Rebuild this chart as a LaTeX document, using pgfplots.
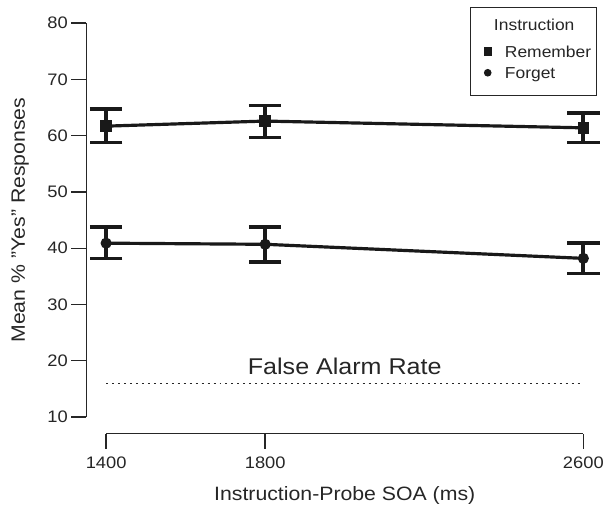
\documentclass[border=0pt]{standalone}
\usepackage{fontspec}
\setmainfont{Liberation Sans}[FakeStretch=1.1]
\usepackage{pgfplots}
\pgfplotsset{compat=1.18}
\usepackage{pgfplotstable}

\pgfplotstableread{
x y ep em
1400 61.7 3.0 2.9
1800 62.6 2.8 2.9
2600 61.4 2.6 2.6
}\remember
\pgfplotstableread{
x y ep em
1400 40.9 2.9 2.7
1800 40.7 3.1 3.1
2600 38.2 2.7 2.7
}\forget

\begin{document}
\begin{tikzpicture}
\begin{axis}[
  scale only axis, width=479.8bp, height=396bp,
  xmin=1400, xmax=2600, ymin=10, ymax=80,
  clip=false,
  axis lines=left,
  axis line style={-, line width=1.4bp, draw=black!85},
  axis x line shift=16.7bp,
  axis y line shift=20bp,
  xtick={1400,1800,2600}, ytick={10,20,...,80},
  tick align=outside, major tick length=15bp,
  tick style={line width=1.4bp, draw=black!85},
  /pgf/number format/assume math mode=true,
  /pgf/number format/1000 sep={},
  scaled ticks=false,
  tick label style={font=\fontsize{16.8}{18}\selectfont, text=black!85},
  xticklabel style={yshift=-5bp},
  xlabel={Instruction-Probe SOA (ms)},
  ylabel={Mean \% "Yes" Responses},
  every axis x label/.style={at={(rel axis cs:0.5,0)}, yshift=-84bp, anchor=base, font=\fontsize{19.5}{22}\selectfont, text=black!85},
  every axis y label/.style={at={(rel axis cs:0,0.5)}, xshift=-81.7bp, anchor=base, rotate=90, font=\fontsize{19.5}{22}\selectfont, text=black!85},
  legend style={at={(rel axis cs:1,1)}, anchor=north east, xshift=13.5bp, yshift=16bp,
    draw=black!85, line width=1.2bp, inner xsep=5bp, inner ysep=16bp,
    row sep=8bp, column sep=13.8bp, text=black!85,
    nodes={inner xsep=0bp, inner ysep=1bp, text height=11.3bp, text depth=0bp, font=\fontsize{16}{18}\selectfont}},
  legend cell align=left,
  legend image code/.code={\path (0bp,0bp) (11.7bp,0bp); \draw[#1] plot coordinates {(11.7bp,0bp)};},
  error bars/error bar style={line width=3.8bp, black!90},
  error bars/error mark options={rotate=90, mark size=16.3bp, line width=3.6bp, black!90},
]
\path (rel axis cs:0,0) ++(-106.7bp,-91.7bp) rectangle ++(607bp,511bp);

\addlegendimage{empty legend}
\addlegendentry{\hspace*{-11bp}\raisebox{5.5bp}{Instruction}}
\addlegendimage{only marks, mark=square*, mark size=3.5bp, black!90}
\addlegendentry{Remember}
\addlegendimage{only marks, mark=*, mark size=3.2bp, black!90}
\addlegendentry{Forget}

\addplot[forget plot, black!90, line width=3.2bp, mark=square*, mark size=4.2bp,
  error bars/.cd, y dir=both, y explicit]
  table[x=x, y=y, y error plus=ep, y error minus=em]{\remember};
\addplot[forget plot, black!90, line width=3.2bp, mark=*, mark size=3.9bp,
  error bars/.cd, y dir=both, y explicit]
  table[x=x, y=y, y error plus=ep, y error minus=em]{\forget};

\addplot[forget plot, black!85, line width=1.3bp, dash pattern=on 2bp off 4bp] coordinates {(1400,16) (2600,16)};

\node[font=\fontsize{23}{26}\selectfont, anchor=base, text=black!85] at (axis cs:2000,17.5) {False Alarm Rate};
\end{axis}
\end{tikzpicture}
\end{document}
